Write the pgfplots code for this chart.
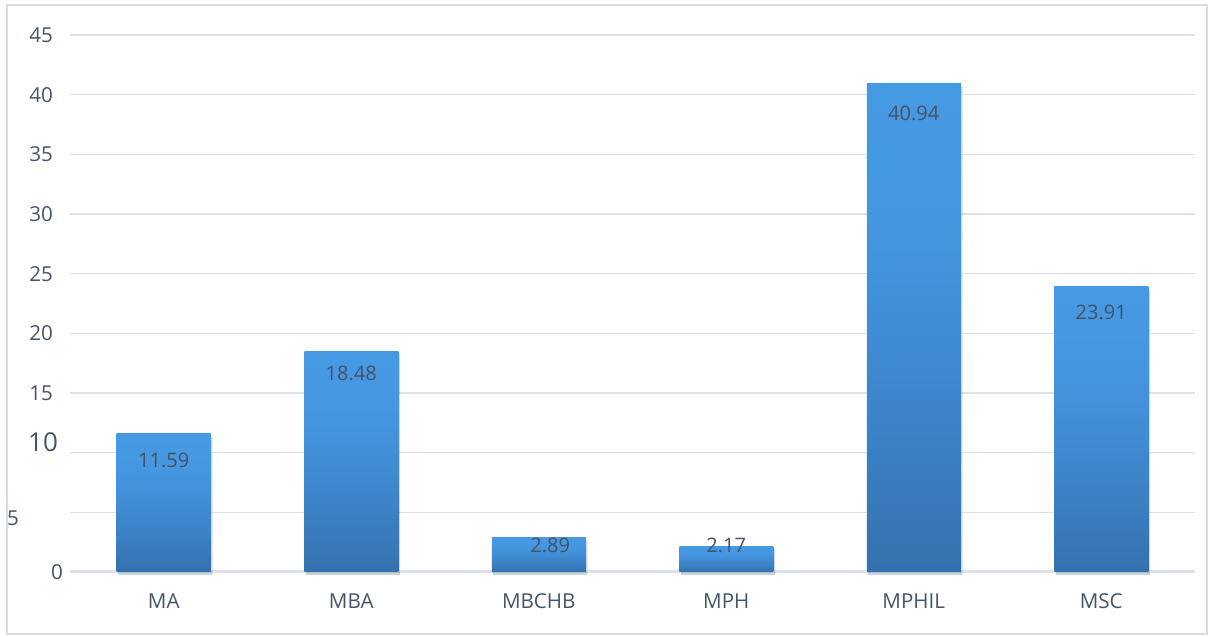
\documentclass[border=0pt]{standalone}
\usepackage{pgfplots}
\pgfplotsset{compat=1.18}
\usepackage{fontspec}
\setmainfont{Open Sans}
\definecolor{txt}{HTML}{44546A}
\definecolor{gridc}{HTML}{DDE2EA}
\definecolor{framec}{HTML}{DCDCDC}
\definecolor{lbl}{HTML}{465264}
\definecolor{sA}{HTML}{3471AE}
\definecolor{sB}{HTML}{3B80C3}
\definecolor{sC}{HTML}{418DD4}
\definecolor{sD}{HTML}{4597E1}
\definecolor{sE}{HTML}{4699E3}
\pgfdeclareverticalshading{barshade}{100bp}{color(0bp)=(sA); color(25bp)=(sA); color(37.5bp)=(sB); color(50bp)=(sC); color(62.5bp)=(sD); color(75bp)=(sE); color(100bp)=(sE)}
\pgfplotsset{mybar/.style={ybar, bar width=47pt, bar shift=0pt, draw=none,
  shading=barshade,
  preaction={fill=black, opacity=0.12, transform canvas={xshift=0.8pt, yshift=-1.5pt}}}}
\begin{document}
\begin{tikzpicture}
\path[use as bounding box] (-35pt,-32.5pt) rectangle (571pt,286pt);
\draw[framec, line width=0.7pt] (-31.5pt,-31pt) rectangle (568.5pt,283.5pt);
\begin{axis}[
  scale only axis, width=562.5pt, height=268.5pt,
  xmin=-0.5, xmax=5.5, ymin=0, ymax=45,
  axis line style={draw=none},
  tick style={draw=none},
  xtick={0,1,2,3,4,5},
  xticklabels={MA,MBA,MBCHB,MPH,MPHIL,MSC},
  ytick={0,5,10,15,20,25,30,35,40,45},
  yticklabels={{0\hspace*{-5pt}},{\raisebox{-3pt}[\height][\depth]{5}\hspace*{17pt}},{\raisebox{5pt}[\height][\depth]{\fontsize{13}{15}\selectfont 10}\hspace*{-2.5pt}},15,20,25,30,35,40,45},
  ticklabel style={font=\fontsize{10.3}{12}\selectfont, text=txt},
  yticklabel style={xshift=-5pt},
  xticklabel style={yshift=-7.5pt},
  ymajorgrids, grid style={gridc, line width=0.75pt},
  extra y ticks={0}, extra y tick labels={},
  extra y tick style={grid style={gridc, line width=1.5pt}},
  clip=false,
]
\addplot[mybar] coordinates {(0,11.59)};
\addplot[mybar] coordinates {(1,18.48)};
\addplot[mybar] coordinates {(2,2.89)};
\addplot[mybar] coordinates {(3,2.17)};
\addplot[mybar] coordinates {(4,40.94)};
\addplot[mybar] coordinates {(5,23.91)};
\addplot[draw=none, mark=none, nodes near coords, point meta=explicit symbolic,
  nodes near coords style={anchor=center, font=\fontsize{10}{12}\selectfont, text=lbl}]
  coordinates {(0,9.39)[11.59] (1,16.68)[18.48] (2.0615,2.22)[2.89] (3,2.22)[2.17] (4,38.47)[40.94] (5,21.75)[23.91]};
\end{axis}
\end{tikzpicture}
\end{document}
